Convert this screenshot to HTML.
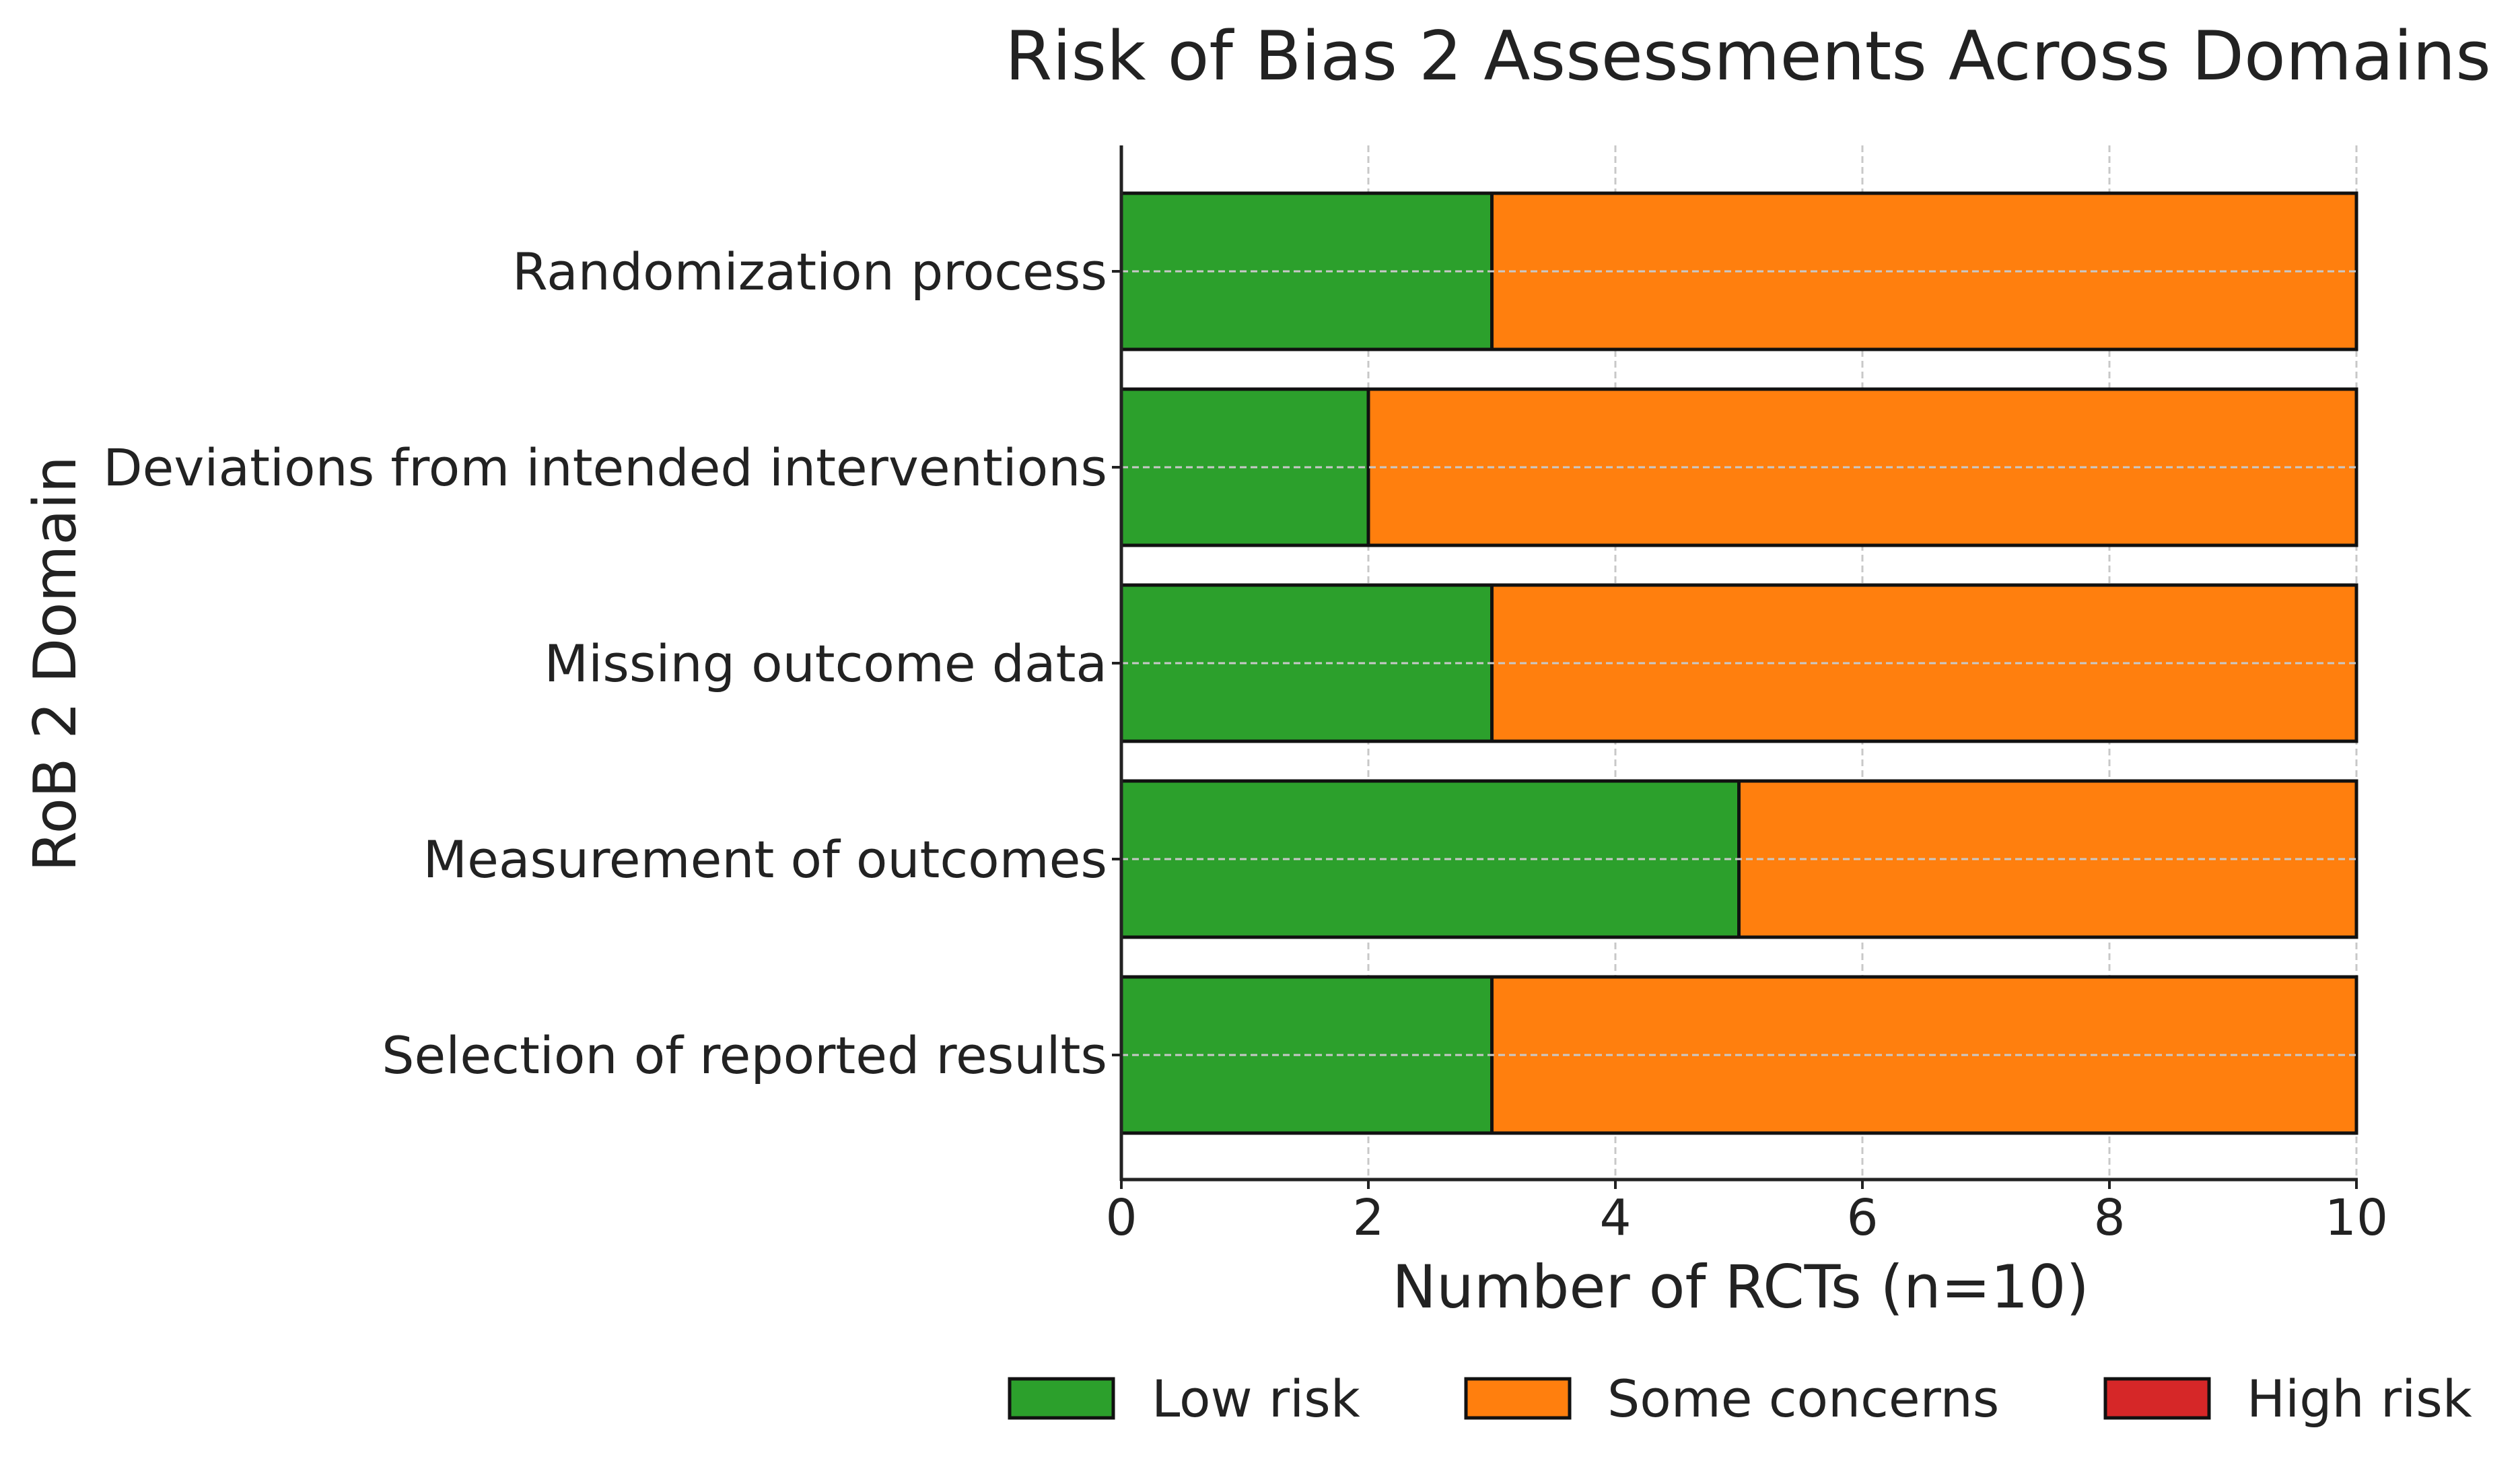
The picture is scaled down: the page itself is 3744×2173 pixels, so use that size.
<!DOCTYPE html>
<html><head><meta charset="utf-8"><style>
html,body{margin:0;padding:0;background:#fff;}
svg{display:block;font-family:"DejaVu Sans","Liberation Sans",sans-serif;}
</style></head><body>
<svg id="chart" width="3744" height="2173" viewBox="0 0 3744 2173" xmlns="http://www.w3.org/2000/svg">
<text x="2597" y="118" font-size="101" text-anchor="middle" fill="#222">Risk of Bias 2 Assessments Across Domains</text>
<text transform="translate(112,986) rotate(-90)" font-size="87" text-anchor="middle" fill="#222">RoB 2 Domain</text>
<text x="2586" y="1942" font-size="88" text-anchor="middle" fill="#222">Number of RCTs (n=10)</text>
<g id="grid"></g>
<g id="bars"></g>
<g id="gridy"></g>
<g id="axes"></g>
<g id="legend"></g>
</svg>
<script>
const categories = ["Randomization process","Deviations from intended interventions","Missing outcome data","Measurement of outcomes","Selection of reported results"];
const lowRisk = [3,2,3,5,3];
const someConcerns = [7,8,7,5,7];
const highRisk = [0,0,0,0,0];
const xTicks = [0,2,4,6,8,10];
const legendLabels = ["Low risk","Some concerns","High risk"];
const colors = ["#2ca02c","#ff7f0e","#d62728"];

const NS="http://www.w3.org/2000/svg";
const X0=1666, X1=3501, XMAX=10;
const Y_TOP=216, Y_BOT=1752, FIRST_C=403, STEP=291, BAR_H=232;
function xs(v){return X0+(X1-X0)*v/XMAX;}
function yc(i){return FIRST_C+i*STEP;}
function mk(tag,attrs,parent){const e=document.createElementNS(NS,tag);for(const k in attrs)e.setAttribute(k,attrs[k]);parent.appendChild(e);return e;}
const grid=document.getElementById('grid'), bars=document.getElementById('bars'), gridy=document.getElementById('gridy'), axes=document.getElementById('axes'), legend=document.getElementById('legend');

xTicks.forEach(t=>{
  const l=mk('line',{x1:xs(t),x2:xs(t),y1:Y_TOP,y2:Y_BOT,stroke:'#c8c8c8','stroke-width':3,'stroke-dasharray':'10,6'},grid);
  
  
});
const series=[lowRisk,someConcerns,highRisk];
categories.forEach((c,i)=>{
  let acc=0;
  series.forEach((s,k)=>{
    const v=s[i];
    if(v>0){
      const r=mk('rect',{x:xs(acc),y:yc(i)-BAR_H/2,width:xs(acc+v)-xs(acc),height:BAR_H,fill:colors[k],stroke:'#111','stroke-width':5},bars);
      
      
    }
    acc+=v;
  });
  const g=mk('line',{x1:X0,x2:X1,y1:yc(i),y2:yc(i),stroke:'#c8c8c8','stroke-width':3,'stroke-dasharray':'10,6'},gridy);
  
  
  const tk=mk('line',{x1:X0-14,x2:X0,y1:yc(i),y2:yc(i),stroke:'#222','stroke-width':4},axes);
  
  
  const t=mk('text',{x:1645,y:yc(i)+27,'font-size':76,'text-anchor':'end',fill:'#222'},axes);
  t.textContent=c;
  
  
});
const ax1=mk('line',{x1:X0,x2:X0,y1:Y_TOP,y2:Y_BOT+2,stroke:'#222','stroke-width':5},axes);


const ax2=mk('line',{x1:X0-2,x2:X1+2,y1:Y_BOT,y2:Y_BOT,stroke:'#222','stroke-width':5},axes);


xTicks.forEach(t=>{
  const tk=mk('line',{x1:xs(t),x2:xs(t),y1:Y_BOT,y2:Y_BOT+14,stroke:'#222','stroke-width':4},axes);
  
  
  const tl=mk('text',{x:xs(t),y:1834,'font-size':74,'text-anchor':'middle',fill:'#222'},axes);
  tl.textContent=String(t);
  
  
});
const patchX=[1500,2178,3128], textX=[1711,2388,3338];
legendLabels.forEach((lab,k)=>{
  const p=mk('rect',{x:patchX[k],y:2048,width:154,height:58,fill:colors[k],stroke:'#111','stroke-width':5},legend);
  
  
  const t=mk('text',{x:textX[k],y:2104,'font-size':76,fill:'#222'},legend);
  t.textContent=lab;
  
  
});
</script>
</body></html>
